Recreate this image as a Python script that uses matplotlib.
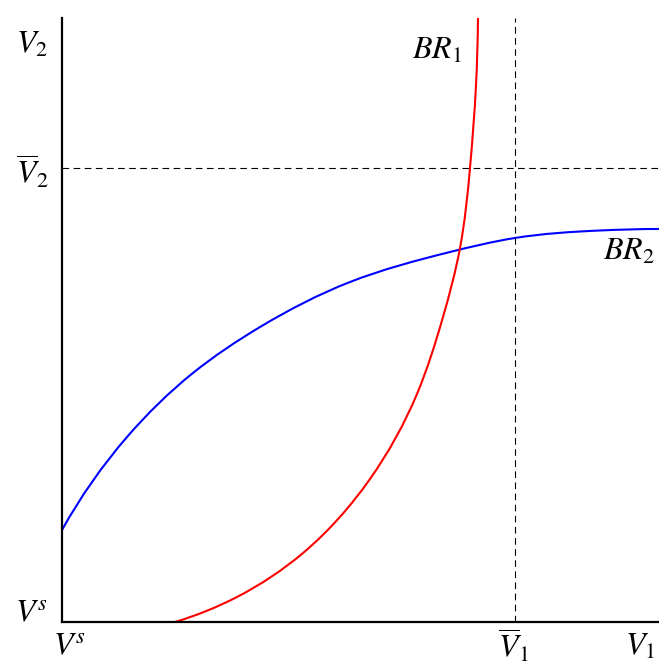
import math
import numpy as np
import matplotlib
matplotlib.use("Agg")
import matplotlib.pyplot as plt
from matplotlib.path import Path
from matplotlib.patches import PathPatch

plt.rcParams['mathtext.fontset'] = 'stix'
plt.rcParams['font.family'] = ['STIXGeneral', 'DejaVu Serif']

# Best response curves (V1, V2), in chart units 0..100
br2_v1 = [0, 10.89, 21.94, 33.17, 48.24, 64.99, 75.88, 90.12, 100]
br2_v2 = [15.23, 30.63, 41.23, 48.84, 56.29, 61.26, 63.58, 64.82, 65.07]

br1_v1 = [18.93, 29.31, 40.37, 51.59, 59.46, 63.82, 66.67, 68.34, 69.35, 69.68]
br1_v2 = [0, 4.14, 11.42, 23.68, 37.75, 50.50, 61.92, 75.17, 88.91, 100]

v1_bar = 75.9
v2_bar = 75.2


def spline_derivs(t, y):
    """Derivatives of a C2 cubic spline through (t, y), ends from local parabolas."""
    n = len(t) - 1
    h = np.diff(t)
    dl = np.diff(y) / h
    A = np.zeros((n + 1, n + 1))
    r = np.zeros(n + 1)
    A[0, 0] = 1
    r[0] = dl[0] * (2 * h[0] + h[1]) / (h[0] + h[1]) - dl[1] * h[0] / (h[0] + h[1])
    A[n, n] = 1
    r[n] = dl[n - 1] * (2 * h[n - 1] + h[n - 2]) / (h[n - 1] + h[n - 2]) \
        - dl[n - 2] * h[n - 1] / (h[n - 1] + h[n - 2])
    for i in range(1, n):
        A[i, i - 1] = h[i]
        A[i, i] = 2 * (h[i - 1] + h[i])
        A[i, i + 1] = h[i - 1]
        r[i] = 3 * (h[i] * dl[i - 1] + h[i - 1] * dl[i])
    return np.linalg.solve(A, r)


def smooth_path(xs, ys):
    """Render the curve through the read points as cubic Bezier segments."""
    xs = np.asarray(xs, float)
    ys = np.asarray(ys, float)
    t = np.concatenate([[0], np.cumsum(np.hypot(np.diff(xs), np.diff(ys)))])
    mx = spline_derivs(t, xs)
    my = spline_derivs(t, ys)
    verts = [(xs[0], ys[0])]
    codes = [Path.MOVETO]
    for i in range(len(xs) - 1):
        hh = (t[i + 1] - t[i]) / 3
        verts += [(xs[i] + mx[i] * hh, ys[i] + my[i] * hh),
                  (xs[i + 1] - mx[i + 1] * hh, ys[i + 1] - my[i + 1] * hh),
                  (xs[i + 1], ys[i + 1])]
        codes += [Path.CURVE4] * 3
    return Path(verts, codes)


W, H = 659, 664
fig = plt.figure(figsize=(W / 100, H / 100), dpi=100)
ax = fig.add_axes([62 / W, (H - 622) / H, 597 / W, 604 / H])
ax.set_xlim(0, 100)
ax.set_ylim(0, 100)
for s in ['top', 'right']:
    ax.spines[s].set_visible(False)
for s in ['left', 'bottom']:
    ax.spines[s].set_linewidth(1.6)
    ax.spines[s].set_zorder(5)
ax.set_xticks([])
ax.set_yticks([])

ax.add_patch(PathPatch(smooth_path(br2_v1, br2_v2), facecolor='none',
                       edgecolor='#0000ff', lw=1.5, capstyle='butt'))
ax.add_patch(PathPatch(smooth_path(br1_v1, br1_v2), facecolor='none',
                       edgecolor='#ff0000', lw=1.5, capstyle='butt'))

ax.axhline(v2_bar, color='black', lw=0.8, ls=(0, (6, 4)))
ax.axvline(v1_bar, color='black', lw=0.8, ls=(0, (6, 4)))

fs = 23
kw = dict(fontsize=fs, clip_on=False)
ax.text(-2.3, 95.5, r'$V_2$', ha='right', va='center', **kw)
ax.text(-2.3, 74.4, r'$\overline{V}_2$', ha='right', va='center', **kw)
ax.text(-2.3, 1.5, r'$V^s$', ha='right', va='center', **kw)
ax.text(1.2, -4.0, r'$V^s$', ha='center', va='center', **kw)
ax.text(v1_bar - 0.3, -4.0, r'$\overline{V}_1$', ha='center', va='center', **kw)
ax.text(96.8, -4.2, r'$V_1$', ha='center', va='center', **kw)
ax.text(62.9, 94.6, r'$BR_1$', ha='center', va='center', **kw)
ax.text(94.9, 61.2, r'$BR_2$', ha='center', va='center', **kw)

fig.savefig('out.png', dpi=100)
